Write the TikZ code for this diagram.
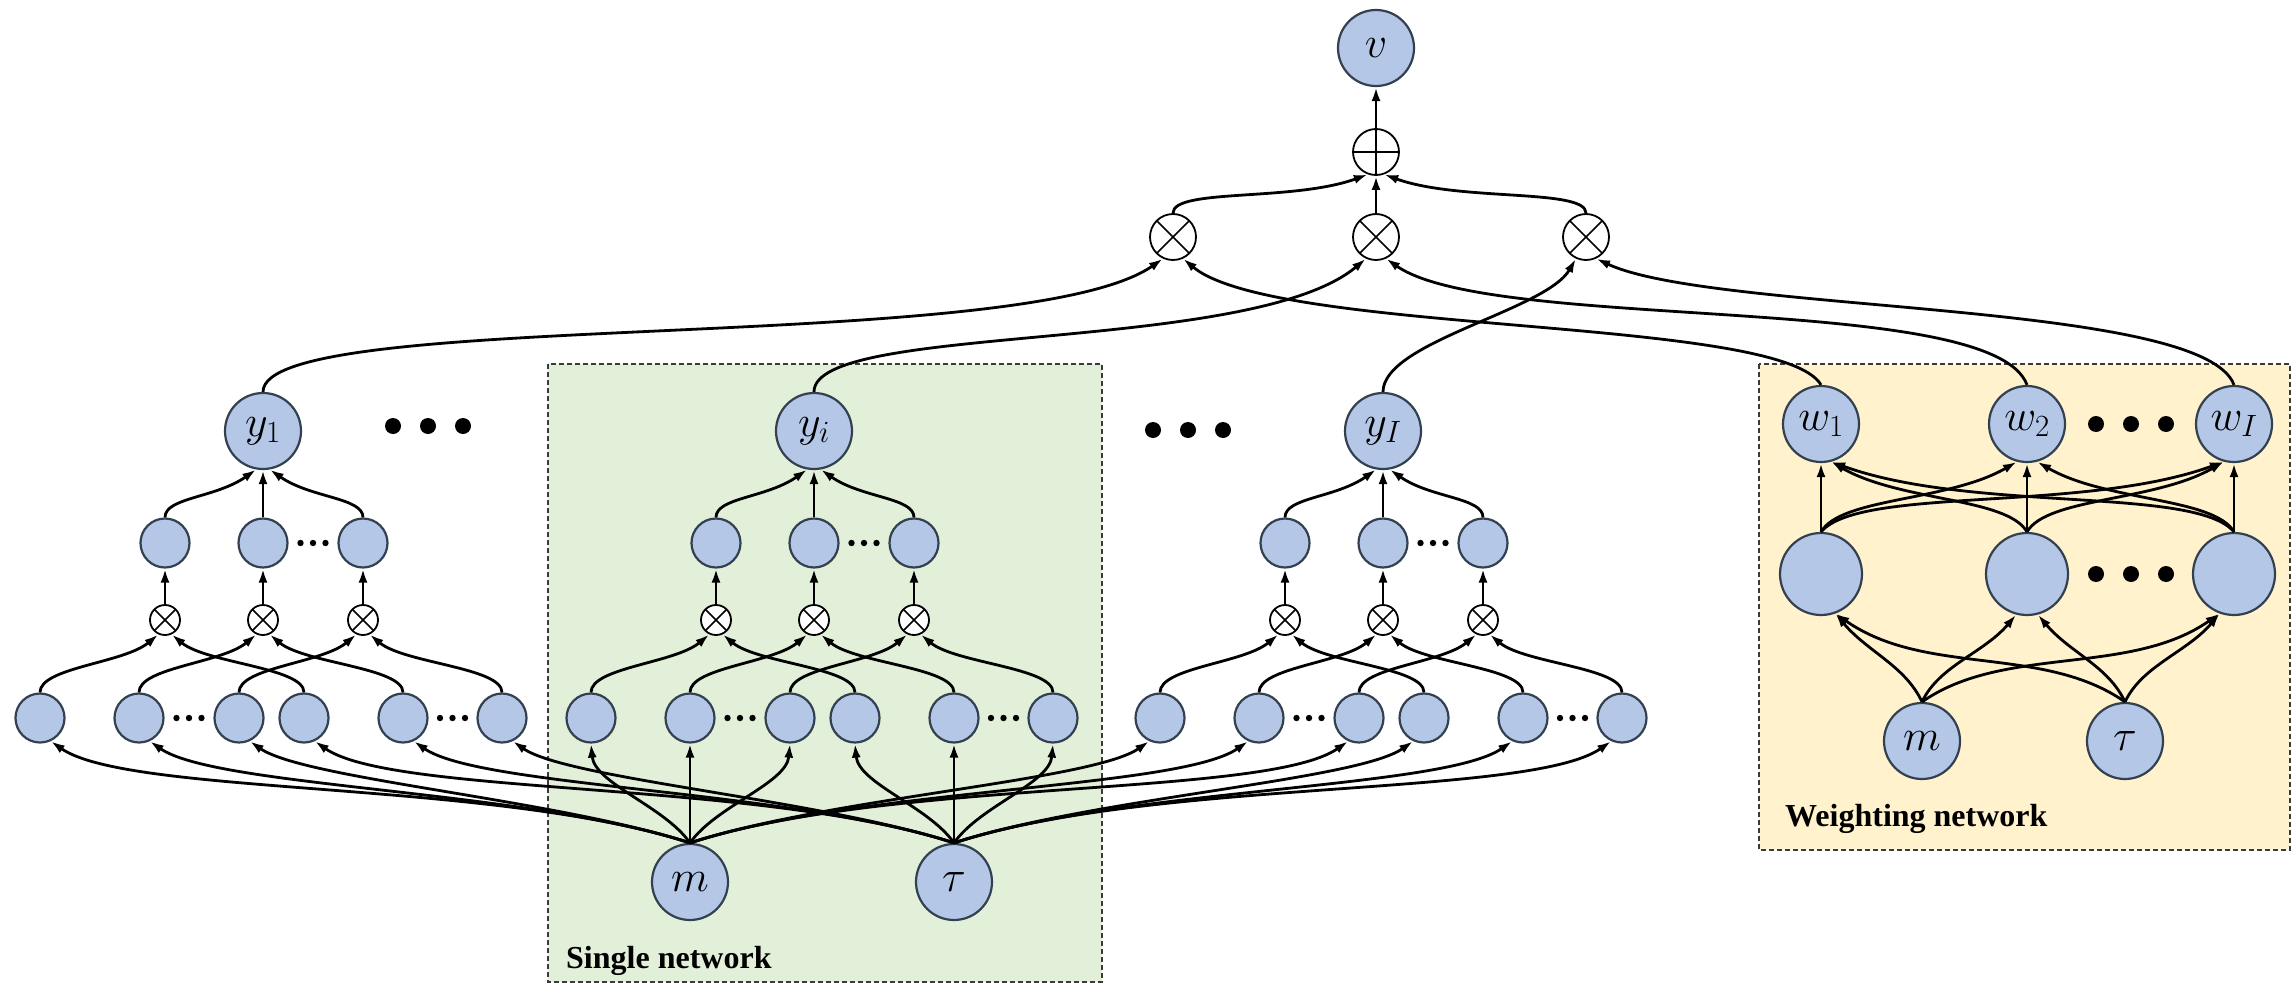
\RequirePackage{fix-cm}
\documentclass[tikz,border=0pt]{standalone}
\usepackage{fontspec}
\newfontfamily\labfont{Liberation Serif}
\usetikzlibrary{arrows.meta}
\definecolor{nfill}{HTML}{B4C7E7}
\definecolor{ndraw}{HTML}{33404F}
\definecolor{gfill}{HTML}{E2EFD9}
\definecolor{yfill}{HTML}{FFF2CC}
\definecolor{bline}{HTML}{3A3A3A}
\begin{document}
\begin{tikzpicture}[x=1pt,y=-1pt,
  conn/.style={line width=2.8pt, black, -{Latex[length=14pt,width=9pt]}},
  neur/.style={circle, draw=ndraw, fill=nfill, line width=2.2pt, inner sep=0pt, minimum size=#1, font=\fontsize{44}{52}\selectfont},
  neur/.default=76pt,
  hn/.style={neur=49pt},
  opx/.style={circle, draw=black, fill=white, line width=1.8pt, inner sep=0pt, minimum size=#1,
    path picture={\draw[line width=1.5pt] (path picture bounding box.north west) -- (path picture bounding box.south east)
      (path picture bounding box.north east) -- (path picture bounding box.south west);}},
  opp/.style={circle, draw=black, fill=white, line width=1.8pt, inner sep=0pt, minimum size=#1,
    path picture={\draw[line width=1.5pt] (path picture bounding box.north) -- (path picture bounding box.south)
      (path picture bounding box.west) -- (path picture bounding box.east);}},
  xsm/.style={opx=30pt},
  boxline/.style={draw=bline, line width=2pt, dash pattern=on 5pt off 3pt},
  lab/.style={inner sep=0pt, font=\labfont\bfseries\fontsize{32}{36}\selectfont}
]
\useasboundingbox (0,0) rectangle (2292,985);
% boxes
\draw[boxline, fill=gfill] (548,364) rectangle (1102,982);
\draw[boxline, fill=yfill] (1759,364) rectangle (2290,850);
\node[lab, anchor=base west] (sl) at (566,968) {Single network};
\node[lab, anchor=base west] (wl) at (1785,826) {Weighting network};

% top
\node[neur] (v) at (1376,48) {$v$};
\node[opp=46pt] (sum) at (1376,152) {};
\node[opx=46pt] (t1) at (1173,237) {};
\node[opx=46pt] (t2) at (1376,237) {};
\node[opx=46pt] (t3) at (1586,237) {};

% groups
\foreach \g/\X/\s in {a/263/1,b/814/i,c/1383/I}{
  \node[neur] (y\g) at (\X,431) {$y_{\s}$};
  \node[hn] (p\g1) at (\X-98,543) {};
  \node[hn] (p\g2) at (\X,543) {};
  \node[hn] (p\g3) at (\X+100,543) {};
  \node[xsm] (x\g1) at (\X-98,620) {};
  \node[xsm] (x\g2) at (\X,620) {};
  \node[xsm] (x\g3) at (\X+100,620) {};
  \node[hn] (l\g1) at (\X-223,718) {};
  \node[hn] (l\g2) at (\X-124,718) {};
  \node[hn] (l\g3) at (\X-24,718) {};
  \node[hn] (l\g4) at (\X+41,718) {};
  \node[hn] (l\g5) at (\X+140,718) {};
  \node[hn] (l\g6) at (\X+239,718) {};
  \foreach \d in {0,12.5,25}{
    \fill (\X+37.5+\d,543) circle (3.2pt);
    \fill (\X-86.5+\d,718) circle (3.2pt);
    \fill (\X+177+\d,718) circle (3.2pt);
  }
  \draw[conn] (p\g1.north) to[out=90,in=-145,out distance=20pt,in distance=50pt] (y\g.-100);
  \draw[conn] (p\g2.north) -- (y\g.south);
  \draw[conn] (p\g3.north) to[out=90,in=-35,out distance=20pt,in distance=50pt] (y\g.-80);
  \foreach \k in {1,2,3}{\draw[conn] (x\g\k.north) -- (p\g\k.south);}
  \draw[conn] (l\g1.north) to[out=90,in=-140,out distance=25pt,in distance=45pt] (x\g1.-115);
  \draw[conn] (l\g2.north) to[out=90,in=-140,out distance=25pt,in distance=45pt] (x\g2.-115);
  \draw[conn] (l\g3.north) to[out=90,in=-140,out distance=25pt,in distance=45pt] (x\g3.-115);
  \draw[conn] (l\g4.north) to[out=90,in=-40,out distance=25pt,in distance=45pt] (x\g1.-65);
  \draw[conn] (l\g5.north) to[out=90,in=-40,out distance=25pt,in distance=45pt] (x\g2.-65);
  \draw[conn] (l\g6.north) to[out=90,in=-40,out distance=25pt,in distance=45pt] (x\g3.-65);
}
% big dots
\foreach \d in {0,35,70}{
  \fill (393+\d,426) circle (8pt);
  \fill (1153+\d,430) circle (8pt);
  \fill (2096+\d,424) circle (8pt);
  \fill (2096+\d,574) circle (8pt);
}

% single network inputs
\node[neur] (ms) at (690,882) {$m$};
\node[neur] (ts) at (954,882) {$\tau$};
\draw[conn] (ms.north) to[out=125,in=-85,out distance=45pt,in distance=40pt] (lb1.south);
\draw[conn] (ms.north) -- (lb2.south);
\draw[conn] (ms.north) to[out=55,in=-95,out distance=45pt,in distance=40pt] (lb3.south);
\draw[conn] (ts.north) to[out=125,in=-85,out distance=45pt,in distance=40pt] (lb4.south);
\draw[conn] (ts.north) -- (lb5.south);
\draw[conn] (ts.north) to[out=55,in=-95,out distance=45pt,in distance=40pt] (lb6.south);
\draw[conn] (ms.north) to[out=162,in=-35,out distance=205pt,in distance=96pt] (la1.-65);
\draw[conn] (ms.north) to[out=162,in=-35,out distance=173pt,in distance=81pt] (la2.-65);
\draw[conn] (ms.north) to[out=162,in=-35,out distance=141pt,in distance=66pt] (la3.-65);
\draw[conn] (ts.north) to[out=162,in=-35,out distance=205pt,in distance=96pt] (la4.-65);
\draw[conn] (ts.north) to[out=162,in=-35,out distance=173pt,in distance=81pt] (la5.-65);
\draw[conn] (ts.north) to[out=162,in=-35,out distance=141pt,in distance=66pt] (la6.-65);
\draw[conn] (ms.north) to[out=18,in=-145,out distance=147pt,in distance=69pt] (lc1.-115);
\draw[conn] (ms.north) to[out=18,in=-145,out distance=179pt,in distance=84pt] (lc2.-115);
\draw[conn] (ms.north) to[out=18,in=-145,out distance=211pt,in distance=99pt] (lc3.-115);
\draw[conn] (ts.north) to[out=18,in=-145,out distance=147pt,in distance=69pt] (lc4.-115);
\draw[conn] (ts.north) to[out=18,in=-145,out distance=179pt,in distance=84pt] (lc5.-115);
\draw[conn] (ts.north) to[out=18,in=-145,out distance=211pt,in distance=99pt] (lc6.-115);

% weighting network
\node[neur] (w1) at (1821,424) {$w_1$};
\node[neur] (w2) at (2027,424) {$w_2$};
\node[neur] (w3) at (2234,424) {$w_I$};
\node[neur=82pt] (h1) at (1821,574) {};
\node[neur=82pt] (h2) at (2027,574) {};
\node[neur=82pt] (h3) at (2234,574) {};
\node[neur] (mw) at (1922,741) {$m$};
\node[neur] (tw) at (2125,741) {$\tau$};
\draw[conn] (mw.north) to[out=115,in=-50,out distance=40pt,in distance=50pt] (h1.-70);
\draw[conn] (tw.north) to[out=145,in=-35,out distance=100pt,in distance=110pt] (h1.-70);
\draw[conn] (mw.north) to[out=65,in=-130,out distance=40pt,in distance=50pt] (h2.-105);
\draw[conn] (tw.north) to[out=115,in=-50,out distance=40pt,in distance=50pt] (h2.-75);
\draw[conn] (mw.north) to[out=35,in=-145,out distance=100pt,in distance=110pt] (h3.-110);
\draw[conn] (tw.north) to[out=65,in=-130,out distance=40pt,in distance=50pt] (h3.-110);
\draw[conn] (h1.north) -- (w1.south);
\draw[conn] (h2.north) -- (w2.south);
\draw[conn] (h3.north) -- (w3.south);
\draw[conn] (h1.north) to[out=60,in=-150,out distance=40pt,in distance=80pt] (w2.-105);
\draw[conn] (h1.north) to[out=50,in=-160,out distance=60pt,in distance=150pt] (w3.-105);
\draw[conn] (h2.north) to[out=120,in=-30,out distance=40pt,in distance=80pt] (w1.-75);
\draw[conn] (h2.north) to[out=60,in=-150,out distance=40pt,in distance=80pt] (w3.-105);
\draw[conn] (h3.north) to[out=130,in=-20,out distance=60pt,in distance=150pt] (w1.-75);
\draw[conn] (h3.north) to[out=120,in=-30,out distance=40pt,in distance=80pt] (w2.-75);

% top connections
\draw[conn] (sum.north) -- (v.south);
\draw[conn] (t1.north) to[out=90,in=-160,out distance=25pt,in distance=80pt] (sum.-110);
\draw[conn] (t2.north) -- (sum.south);
\draw[conn] (t3.north) to[out=90,in=-20,out distance=25pt,in distance=80pt] (sum.-70);
\draw[conn] (ya.north) to[out=90,in=-145,out distance=85pt,in distance=170pt] (t1.-115);
\draw[conn] (yb.north) to[out=90,in=-140,out distance=70pt,in distance=150pt] (t2.-115);
\draw[conn] (yc.north) to[out=90,in=-120,out distance=50pt,in distance=60pt] (t3.-115);
\draw[conn] (w1.north) to[out=120,in=-40,out distance=80pt,in distance=120pt] (t1.-65);
\draw[conn] (w2.north) to[out=110,in=-35,out distance=100pt,in distance=130pt] (t2.-65);
\draw[conn] (w3.north) to[out=110,in=-25,out distance=90pt,in distance=130pt] (t3.-65);
\end{tikzpicture}
\end{document}
